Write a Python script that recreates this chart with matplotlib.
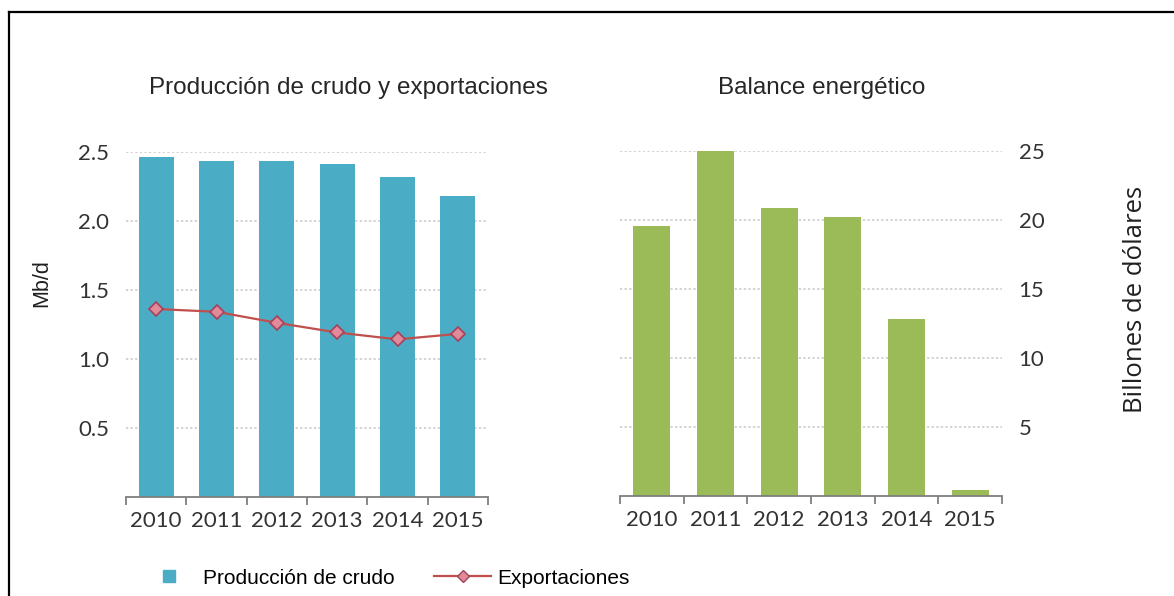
import matplotlib
matplotlib.use('Agg')
import matplotlib.pyplot as plt
from matplotlib.lines import Line2D

# datos
years = ['2010', '2011', '2012', '2013', '2014', '2015']
produccion = [2.46, 2.43, 2.43, 2.41, 2.32, 2.18]      # Mb/d
exportaciones = [1.36, 1.34, 1.26, 1.19, 1.14, 1.18]   # Mb/d
balance = [19.6, 25.0, 20.9, 20.2, 12.8, 0.45]         # billones de dolares

left_ticks = [0.5, 1.0, 1.5, 2.0, 2.5]
right_ticks = [5, 10, 15, 20, 25]

W, H = 1174, 596
fig = plt.figure(figsize=(W / 100, H / 100), dpi=100)

def frac(x0, y0, x1, y1):
    # pixeles -> fracciones de figura
    return [x0 / W, 1 - y1 / H, (x1 - x0) / W, (y1 - y0) / H]

ax1 = fig.add_axes(frac(126, 151.7, 488, 496.7))
ax2 = fig.add_axes(frac(620, 151, 1002, 496))

blue = '#4BACC6'
green = '#9BBB59'
red = '#C0504D'
grid_c = '#C8C8C8'
txt_c = '#333333'
tick_font = 'Lato'
x = list(range(len(years)))

def style(ax, ymax, ticks, side):
    for s in ['top', 'left', 'right']:
        ax.spines[s].set_visible(False)
    ax.spines['bottom'].set_color('#7F7F7F')
    ax.spines['bottom'].set_linewidth(1.3)
    ax.set_xlim(-0.5, 5.5)
    ax.set_ylim(0, ymax)
    ax.set_xticks(x)
    ax.set_xticklabels(years, fontsize=16, color=txt_c, fontfamily=tick_font)
    ax.set_xticks([i - 0.5 for i in range(len(years) + 1)], minor=True)
    ax.tick_params(axis='x', which='major', length=0, pad=10)
    ax.tick_params(axis='x', which='minor', length=6, width=1.3, color='#7F7F7F', direction='out')
    ax.set_yticks(ticks)
    ax.set_yticklabels([f'{t:g}' if side == 'right' else f'{t:.1f}' for t in ticks],
                       fontsize=16, color=txt_c, fontfamily=tick_font)
    ax.tick_params(axis='y', length=0, pad=12)
    if side == 'right':
        ax.yaxis.tick_right()
    ax.grid(axis='y', color=grid_c, linestyle=(0, (1.5, 1.5)), linewidth=1.1)
    ax.set_axisbelow(True)

style(ax1, 2.5, left_ticks, 'left')
style(ax2, 25, right_ticks, 'right')

ax1.bar(x, produccion, width=0.58, color=blue, zorder=2)
ax1.plot(x, exportaciones, color=red, lw=1.6, marker='D', markersize=7,
         markerfacecolor='#E08A9A', markeredgecolor='#A8405A', markeredgewidth=1.2, zorder=3)
ax2.bar(x, balance, width=0.58, color=green, zorder=2)

# etiquetas de eje
fig.text(42 / W, 1 - 283 / H, 'Mb/d', rotation=90, ha='center', va='center',
         fontsize=15.5, color='#202020', fontfamily='Liberation Sans')
fig.text(1135 / W, 1 - 299 / H, 'Billones de dólares', rotation=90, ha='center', va='center',
         fontsize=18.5, color='#202020', fontfamily='Open Sans')

fig.text(348 / W, 1 - 88 / H, 'Producción de crudo y exportaciones', ha='center', va='center',
         fontsize=17.5, color='#262626', fontfamily='Liberation Sans')
fig.text(822 / W, 1 - 88 / H, 'Balance energético', ha='center', va='center',
         fontsize=17.5, color='#262626', fontfamily='Liberation Sans')

handles = [Line2D([0], [0], linestyle='none', marker='s', markersize=8,
                  markerfacecolor=blue, markeredgecolor=blue),
           Line2D([0], [0], color=red, lw=1.6, marker='D', markersize=6,
                  markerfacecolor='#E08A9A', markeredgecolor='#A8405A')]
fig.legend(handles, ['Producción de crudo', 'Exportaciones'], loc='center left',
           bbox_to_anchor=(122 / W, 1 - 578 / H), ncol=2, frameon=False,
           prop={'family': 'Liberation Sans', 'size': 15}, handlelength=2.7,
           handletextpad=0.3, columnspacing=1.9)

# marco negro (solo arriba e izquierda)
fig.add_artist(Line2D([8.5 / W, 8.5 / W], [0, 1 - 12 / H], color='black', lw=1.6,
                      transform=fig.transFigure))
fig.add_artist(Line2D([8.5 / W, 1], [1 - 12 / H, 1 - 12 / H], color='black', lw=1.6,
                      transform=fig.transFigure))

fig.savefig('out.png', dpi=100)
